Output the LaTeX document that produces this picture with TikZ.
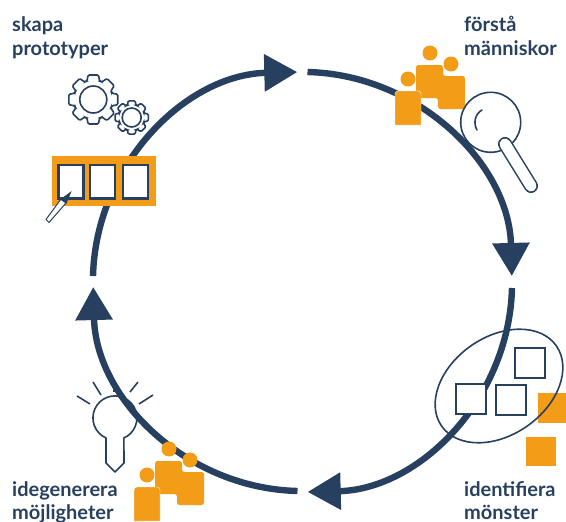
\documentclass[tikz,border=0pt]{standalone}
\usepackage{fontspec}
\setmainfont{Lato}[BoldFont={Lato Bold}]
\usetikzlibrary{arrows.meta}
\definecolor{navy}{HTML}{274060}
\definecolor{amber}{HTML}{F39C18}
\tikzset{
  px/.style={x=1pt,y=-1pt},
  ring/.style={line width=6.4pt,draw=navy,-{Triangle[length=33pt,width=36pt]}},
  label/.style={anchor=base west,align=left,text=navy,font=\fontsize{20}{23.5}\selectfont\bfseries,inner sep=0pt},
  icon/.style={draw=navy,line width=1.6pt},
  boxi/.style={draw=navy,line width=2.2pt,fill=white},
}
\newcommand{\person}[4]{\fill[amber,draw=white,line width=.4pt] (#1,#4) [rounded corners=3pt] -- (#1,#2) -- (#3,#2) [sharp corners] -- (#3,#4) -- cycle;}
\newcommand{\people}[2]{%
\begin{scope}[shift={(#1,#2)}]
 \fill[amber] (14,-12) circle (7.5) (35,-1) circle (7.5) (-8,14) circle (7.5);
 \fill[amber,rounded corners=2.5pt] (0,33) -- (0,0) -- (27,0) -- (27,11) -- (49,11) -- (49,44) -- (22,44) -- (22,33) -- cycle;
 \person{-21}{26}{5}{60}
\end{scope}}
\newcommand{\gear}[5]{% x y router rinner rhole
\begin{scope}[shift={(#1,#2)}]
 \draw[icon,fill=white,rounded corners=1.2pt]
  (-19:#4)
  \foreach \a in {0,45,...,315}{
   -- (\a-19:#4) -- (\a-12:#3) -- (\a+12:#3) -- (\a+19:#4)
  } -- cycle;
 \draw[icon] (0,0) circle (#5);
\end{scope}}
\begin{document}
\begin{tikzpicture}[px]
\useasboundingbox (0,0) rectangle (566,522);
% bulb (under the ring)
\foreach \a/\b/\cc/\d in {77/396/90/404,93/382/101/395,114/381/114/392,138/382/130/392,153/395/139/404}{\draw[icon] (\a,\b) -- (\cc,\d);}
\draw[icon,fill=white,line join=round] (106,438) arc[start angle=114,delta angle=312,radius=22] -- (124,463) -- (115,472) -- (106,463) -- cycle;
% ring
\draw[ring] (307.5,72) arc[start angle=-88.6,end angle=-1.5,radius=209.5];
\draw[ring] (512,288) arc[start angle=1.5,end angle=88.6,radius=209.5];
\draw[ring] (297.5,491) arc[start angle=91.4,end angle=178.5,radius=209.5];
\draw[ring] (93,276) arc[start angle=181.5,end angle=268.6,radius=209.5];
% people top
\people{416}{65}
% magnifier
\draw[icon,fill=white] (490.7,122.3) circle (30);
\draw[icon,line cap=round] (482,110) .. controls (475,114) and (473,123) .. (477,130);
\draw[navy,line width=14pt,line cap=round] (505,144) -- (531,186);
\draw[white,line width=11pt,line cap=round] (505,144) -- (531,186);
% gears
\gear{93.3}{99.5}{25}{19.5}{13.5}
\gear{131.7}{117.5}{17}{13}{9.5}
% boxes
\fill[amber] (52.3,156) rectangle (155.7,206);
\foreach \x in {58.5,90,123}{\draw[boxi] (\x,165) rectangle ++(25,33.5);}
\draw[navy,line width=1pt,fill=white,line join=round] (46,219.5) -- (49,222.5) -- (66,203) -- (61,199) -- cycle;
\fill[navy] (71.7,191) -- (60,199.5) -- (66.5,203.5) -- cycle;
% pattern
\fill[amber] (538.3,393) rectangle (566,422.7);
\fill[amber] (526.3,436.7) rectangle (555.7,465.7);
\draw[icon] (499,386) ellipse[x radius=70,y radius=49,rotate=35];
\foreach \x/\y in {456.3/384.3,496.3/385,514.7/348}{\draw[boxi] (\x,\y) rectangle ++(30,30);}
\people{155}{461}
\node[label] (n1) at (12,55) {skapa\\prototyper};
\node[label] (n2) at (464,55) {förstå\\människor};
\node[label] (n3) at (12,519.5) {idegenerera\\möjligheter};
\node[label] (n4) at (464,519.5) {identifiera\\mönster};
\end{tikzpicture}
\end{document}
